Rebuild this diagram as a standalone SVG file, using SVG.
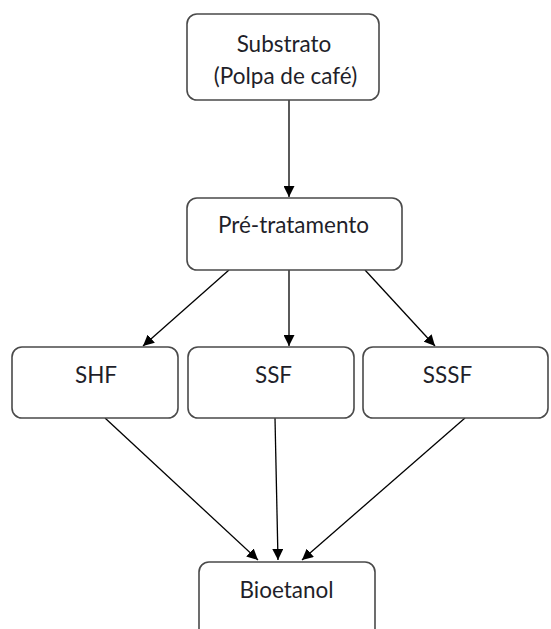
<svg xmlns="http://www.w3.org/2000/svg" width="551" height="629" viewBox="0 0 551 629">
<style>
.box{fill:#fff;stroke:#4a4a4a;stroke-width:1.6}
.lbl{font-family:Lato,"Liberation Sans",Arial,sans-serif;font-size:22.5px;fill:#1f1f2a;text-anchor:middle}
.edge{stroke:#000;stroke-width:1.3;fill:none;marker-end:url(#ah)}
</style>
<defs>
<marker id="ah" viewBox="0 0 10 10" refX="10" refY="5" markerWidth="11" markerHeight="11" markerUnits="userSpaceOnUse" orient="auto">
<path d="M0,0 L10,5 L0,10 z" fill="#000"/>
</marker>
</defs>
<rect width="551" height="629" fill="#fff"/>
<g id="connectors">
<line class="edge" x1="289" y1="100" x2="289" y2="197"/>
<line class="edge" x1="229" y1="270" x2="143" y2="346"/>
<line class="edge" x1="289" y1="270" x2="289" y2="346"/>
<line class="edge" x1="365" y1="270" x2="435" y2="346"/>
<line class="edge" x1="105" y1="418" x2="258" y2="560"/>
<line class="edge" x1="275" y1="418" x2="278" y2="560"/>
<line class="edge" x1="465" y1="418" x2="302" y2="560"/>
</g>
<g id="substrato">
<rect class="box" x="187" y="14" width="192" height="86" rx="10"/>
<text class="lbl" x="284" y="52">Substrato</text>
<text class="lbl" x="285.5" y="84">(Polpa de café)</text>
</g>
<g id="pretratamento">
<rect class="box" x="187" y="198" width="215" height="72" rx="10"/>
<text class="lbl" x="293.5" y="233">Pré-tratamento</text>
</g>
<g id="shf">
<rect class="box" x="12" y="347" width="166" height="71" rx="10"/>
<text class="lbl" x="96" y="383">SHF</text>
</g>
<g id="ssf">
<rect class="box" x="188" y="347" width="166" height="71" rx="10"/>
<text class="lbl" x="273.5" y="383">SSF</text>
</g>
<g id="sssf">
<rect class="box" x="363" y="347" width="185" height="71" rx="10"/>
<text class="lbl" x="447.5" y="383">SSSF</text>
</g>
<g id="bioetanol">
<rect class="box" x="199" y="562" width="176" height="80" rx="10"/>
<text class="lbl" x="286.5" y="598">Bioetanol</text>
</g>
</svg>
